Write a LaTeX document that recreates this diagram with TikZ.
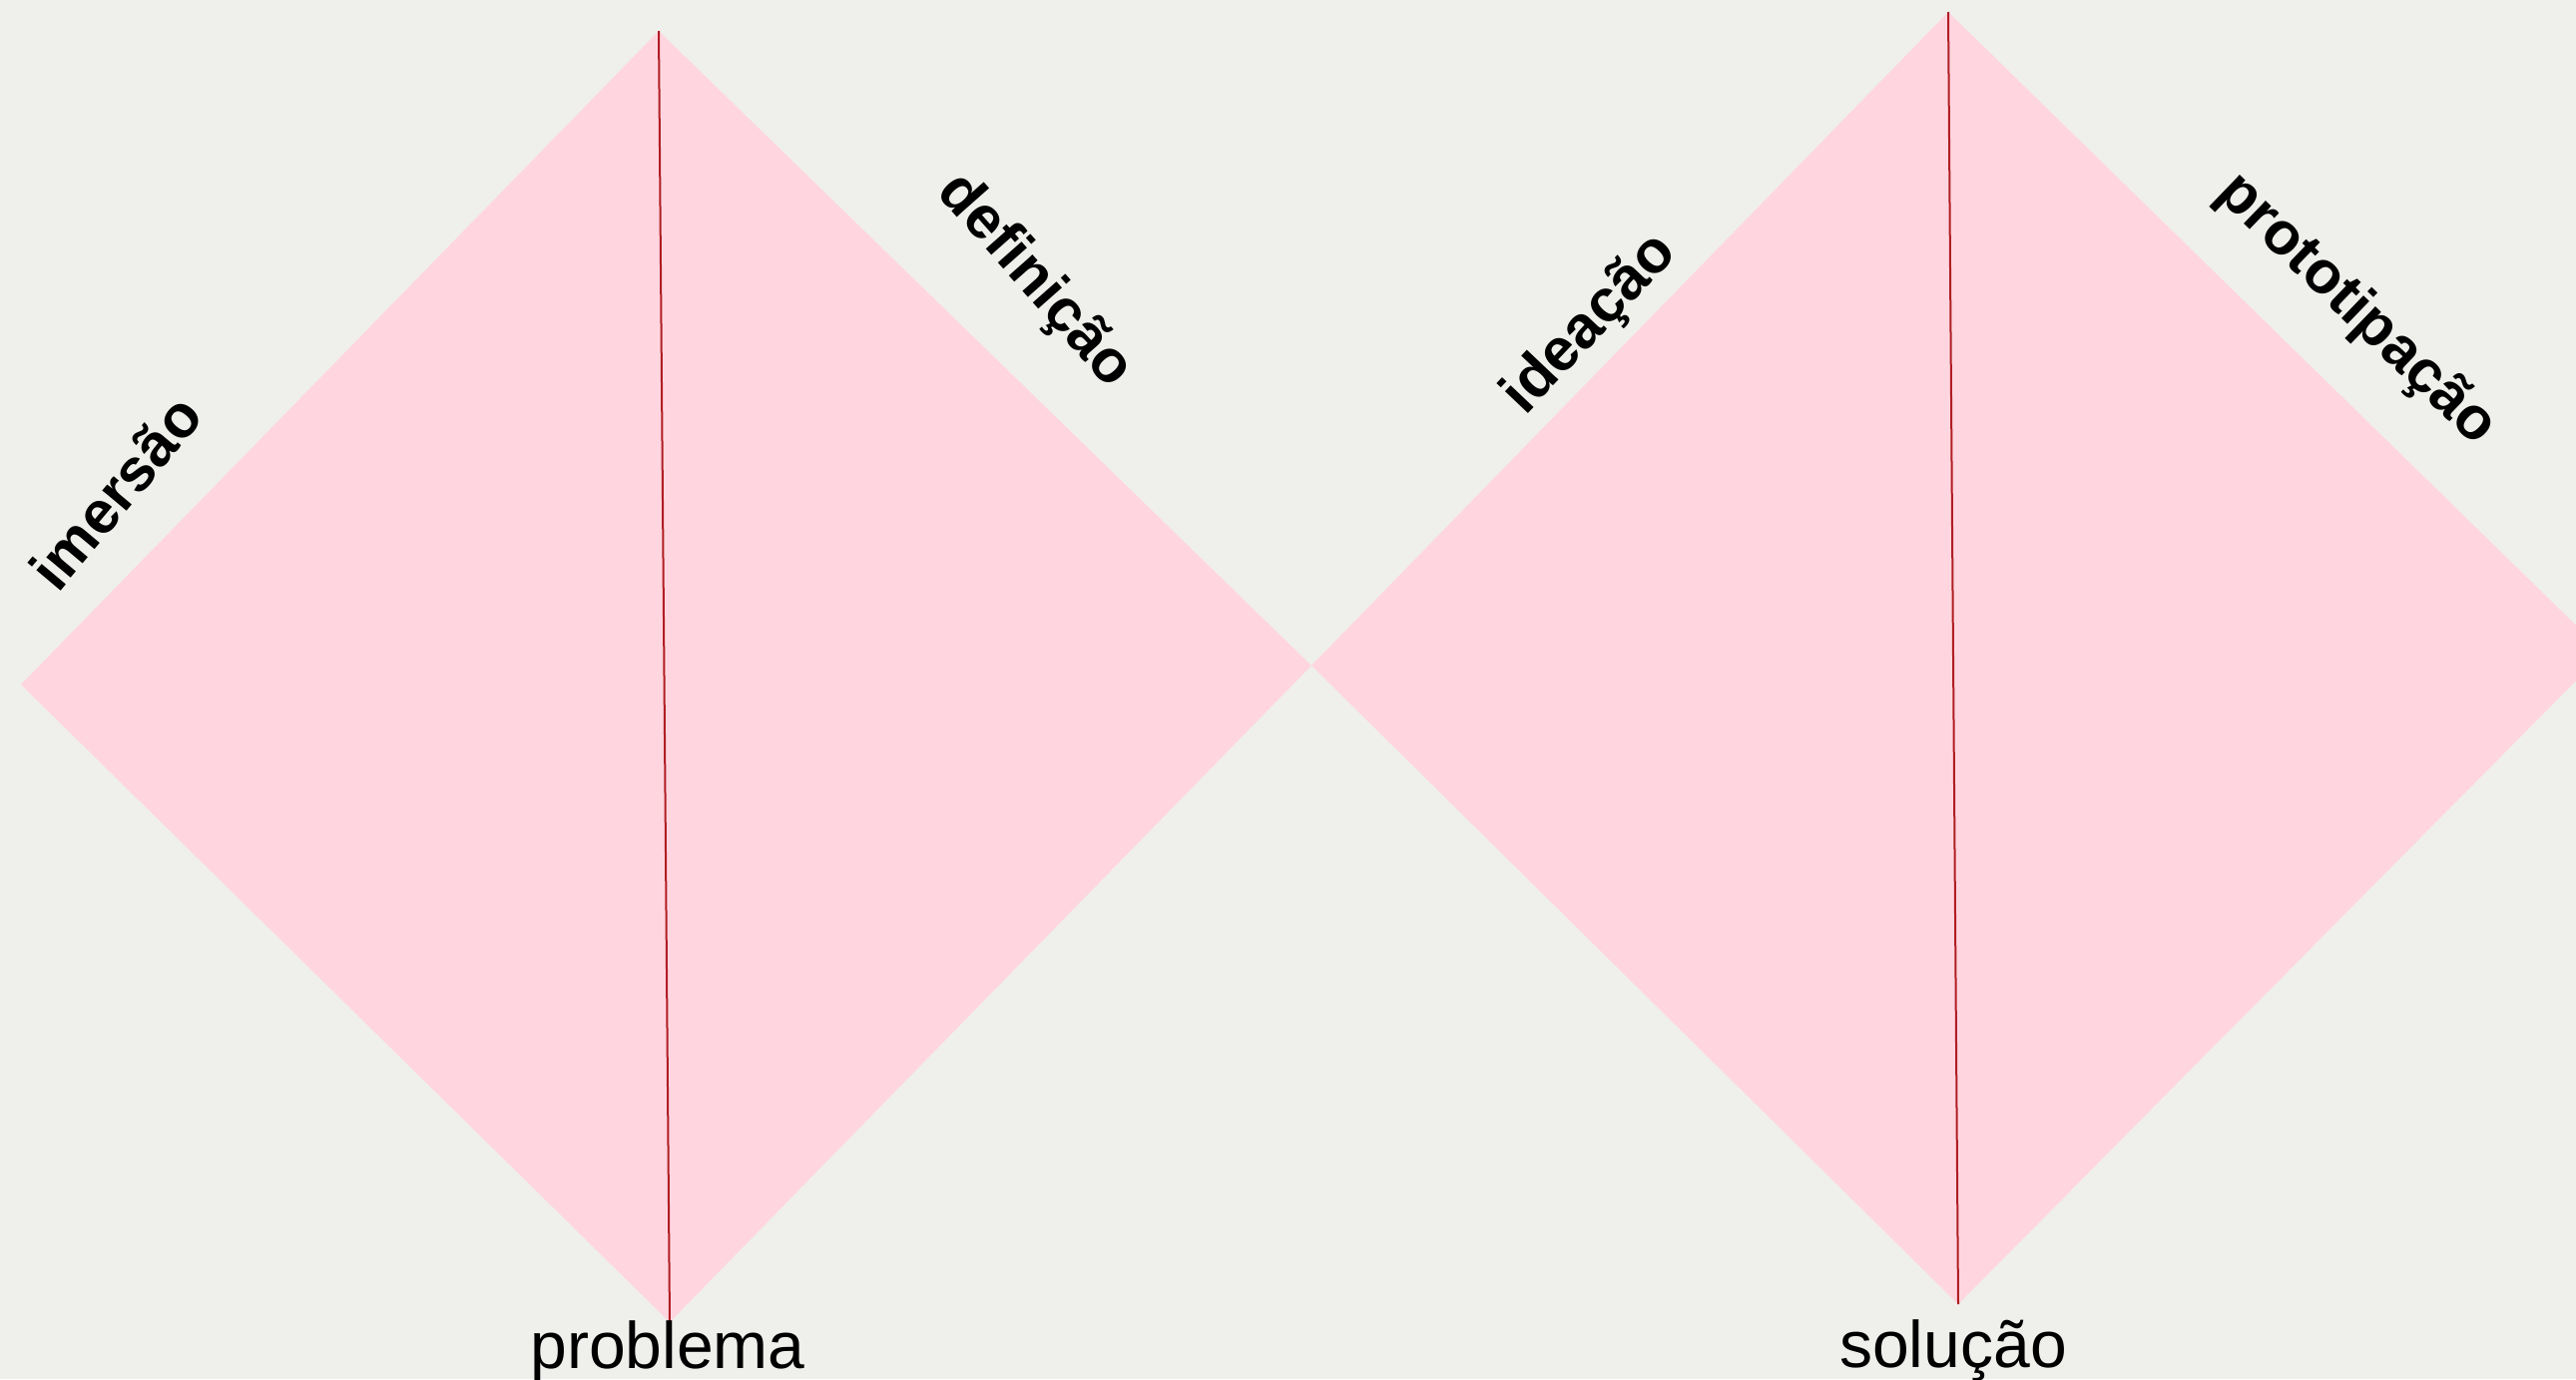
\documentclass[tikz,border=0pt]{standalone}
\usepackage{fontspec}
\setmainfont{Liberation Sans}
\usepackage{tikz}
\usetikzlibrary{positioning}
\definecolor{canvasgray}{HTML}{EFF0EB}
\definecolor{diamondpink}{HTML}{FFD6E0}
\definecolor{axisred}{HTML}{B01E23}

\begin{document}
\begin{tikzpicture}[
  x=1pt, y=-1pt,
  phase/.style={font=\fontsize{60}{72}\selectfont\bfseries, anchor=base, inner sep=0pt},
  pole/.style={font=\fontsize{66}{79}\selectfont, anchor=base, inner sep=0pt},
  axis/.style={draw=axisred, line width=2pt}
]
\useasboundingbox (0,0) rectangle (2581,1382);
\clip (0,0) rectangle (2581,1382);
\fill[canvasgray] (0,0) rectangle (2581,1382);
\coordinate (l1) at (21,686);
\coordinate (t1) at (660,31);
\coordinate (b1) at (671,1325);
\coordinate (waist) at (1314,667);
\coordinate (t2) at (1952,12);
\coordinate (b2) at (1962,1307);
\coordinate (r2) at (2609,654);
\fill[diamondpink] (l1) -- (t1) -- (waist) -- (b1) -- cycle;
\fill[diamondpink] (waist) -- (t2) -- (r2) -- (b2) -- cycle;
\draw[axis] (t1) -- (b1);
\draw[axis] (t2) -- (b2);
\node[phase, rotate=50] (imersao) at (132,507) {imersão};
\node[phase, rotate=-48.5] (definicao) at (1025,292) {definição};
\node[phase, rotate=46.5] (ideacao) at (1605,336) {ideação};
\node[phase, rotate=-44] (prototipacao) at (2350,322) {prototipação};
\node[pole] (problema) at (669,1371) {problema};
\node[pole] (solucao) at (1957,1370) {solução};
\end{tikzpicture}
\end{document}
